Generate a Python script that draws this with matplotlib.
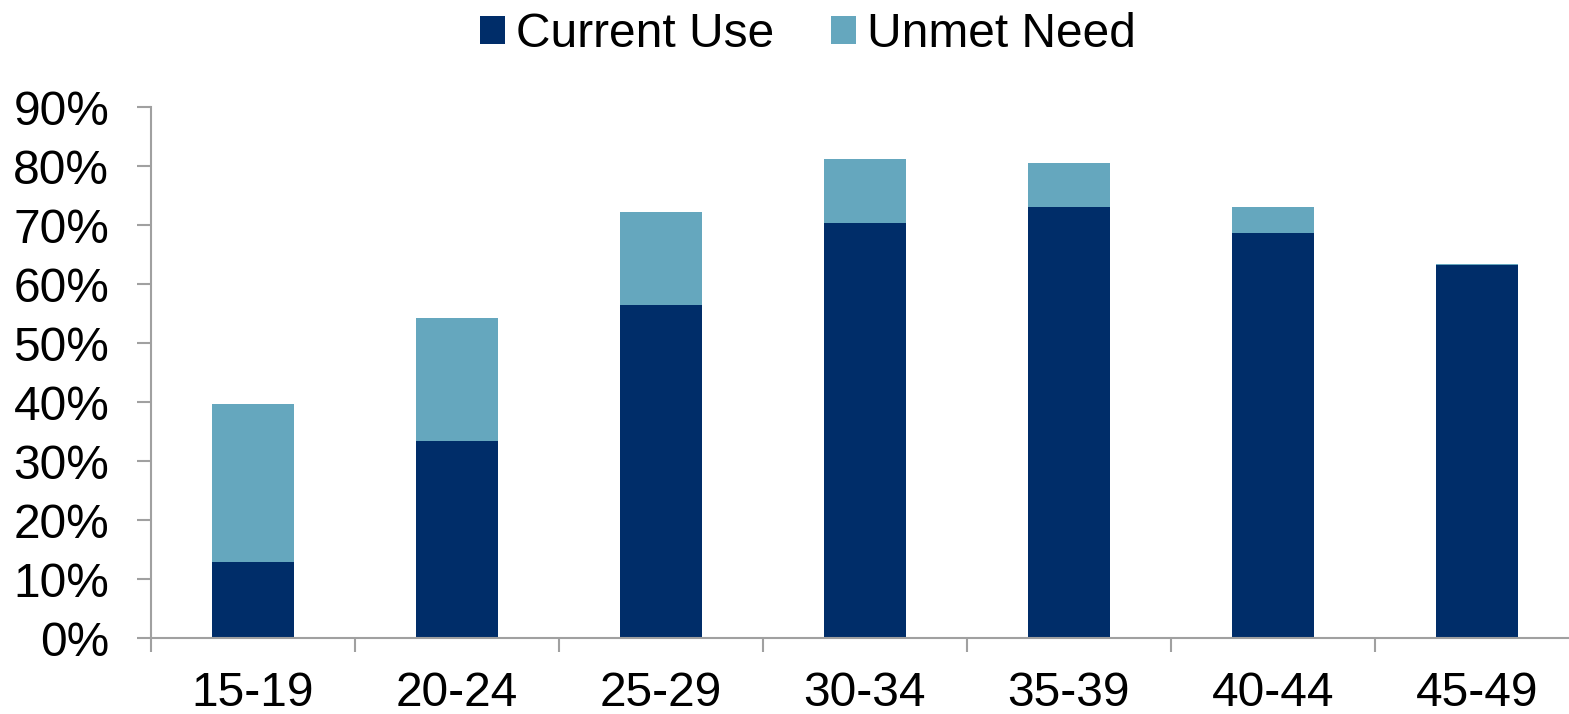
import numpy as np
import matplotlib.pyplot as plt

plt.rcParams['font.family'] = ['Liberation Sans', 'DejaVu Sans']

age_groups = ['15-19', '20-24', '25-29', '30-34', '35-39', '40-44', '45-49']
current_use = [12.9, 33.4, 56.4, 70.3, 73.0, 68.6, 63.2]
unmet_need = [26.8, 20.8, 15.8, 10.9, 7.5, 4.4, 0.2]

dark = '#002D69'
light = '#65A7BE'
grey = '#A0A0A0'

fig = plt.figure(figsize=(15.69, 7.14), dpi=100)
# the plot area runs a little past the right edge of the picture
ax = fig.add_axes([0.0962, 0.1064, 0.910, 0.7436])

x = np.arange(len(age_groups))
cu = np.array(current_use) / 100
un = np.array(unmet_need) / 100
ax.bar(x, cu, width=0.4, color=dark, label='Current Use')
ax.bar(x, un, width=0.4, bottom=cu, color=light, label='Unmet Need')

ax.set_xlim(-0.5, len(age_groups) - 0.5)
ax.set_ylim(0, 0.9)
yt = np.arange(0, 0.91, 0.1)
ax.set_yticks(yt)
ax.set_yticklabels([f'{int(round(v * 100))}%' for v in yt])
ax.set_xticks(x)
ax.set_xticklabels(age_groups)
ax.set_xticks(np.arange(-0.5, len(age_groups), 1.0), minor=True)

ax.tick_params(axis='y', length=10, width=1.5, color=grey, labelsize=34.5, pad=20)
ax.tick_params(axis='x', which='major', length=0, labelsize=34.5, pad=24)
ax.tick_params(axis='x', which='minor', length=10, width=1.5, color=grey)

for side in ['top', 'right']:
    ax.spines[side].set_visible(False)
for side in ['left', 'bottom']:
    ax.spines[side].set_color(grey)
    ax.spines[side].set_linewidth(1.5)

fig.legend(loc='center', bbox_to_anchor=(0.515, 0.952), ncol=2, frameon=False,
           fontsize=34.5, handlelength=0.52, handleheight=0.52, handletextpad=0.23,
           columnspacing=1.2)

fig.savefig('out.png', dpi=100)
